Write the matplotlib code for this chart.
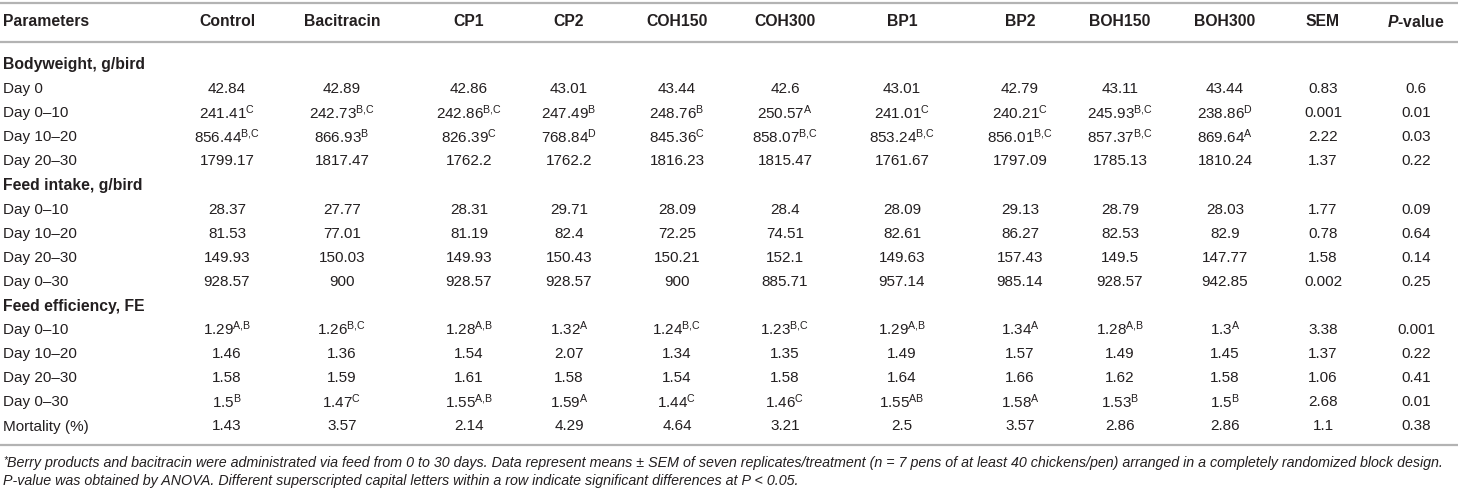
import matplotlib
matplotlib.use("Agg")
import matplotlib.pyplot as plt

plt.rcParams['font.family'] = ['Liberation Sans', 'DejaVu Sans']
plt.rcParams['mathtext.fontset'] = 'custom'
plt.rcParams['mathtext.rm'] = 'Liberation Sans'
plt.rcParams['mathtext.it'] = 'Liberation Sans:italic:bold'
plt.rcParams['mathtext.bf'] = 'Liberation Sans:bold'

# ---------------- data ----------------
header_first = "Parameters"
columns = ["Control", "Bacitracin", "CP1", "CP2", "COH150", "COH300",
           "BP1", "BP2", "BOH150", "BOH300", "SEM", r"$\it{P}$-value"]

group_bw = "Bodyweight, g/bird"
bw_labels = ["Day 0", "Day 0–10", "Day 10–20", "Day 20–30"]
bw_day0 = ["42.84", "42.89", "42.86", "43.01", "43.44", "42.6", "43.01", "42.79", "43.11", "43.44", "0.83", "0.6"]
bw_day0_sup = [""] * 12
bw_d0_10 = ["241.41", "242.73", "242.86", "247.49", "248.76", "250.57", "241.01", "240.21", "245.93", "238.86", "0.001", "0.01"]
bw_d0_10_sup = ["C", "B,C", "B,C", "B", "B", "A", "C", "C", "B,C", "D", "", ""]
bw_d10_20 = ["856.44", "866.93", "826.39", "768.84", "845.36", "858.07", "853.24", "856.01", "857.37", "869.64", "2.22", "0.03"]
bw_d10_20_sup = ["B,C", "B", "C", "D", "C", "B,C", "B,C", "B,C", "B,C", "A", "", ""]
bw_d20_30 = ["1799.17", "1817.47", "1762.2", "1762.2", "1816.23", "1815.47", "1761.67", "1797.09", "1785.13", "1810.24", "1.37", "0.22"]
bw_d20_30_sup = [""] * 12

group_fi = "Feed intake, g/bird"
fi_labels = ["Day 0–10", "Day 10–20", "Day 20–30", "Day 0–30"]
fi_d0_10 = ["28.37", "27.77", "28.31", "29.71", "28.09", "28.4", "28.09", "29.13", "28.79", "28.03", "1.77", "0.09"]
fi_d10_20 = ["81.53", "77.01", "81.19", "82.4", "72.25", "74.51", "82.61", "86.27", "82.53", "82.9", "0.78", "0.64"]
fi_d20_30 = ["149.93", "150.03", "149.93", "150.43", "150.21", "152.1", "149.63", "157.43", "149.5", "147.77", "1.58", "0.14"]
fi_d0_30 = ["928.57", "900", "928.57", "928.57", "900", "885.71", "957.14", "985.14", "928.57", "942.85", "0.002", "0.25"]

group_fe = "Feed efficiency, FE"
fe_labels = ["Day 0–10", "Day 10–20", "Day 20–30", "Day 0–30", "Mortality (%)"]
fe_d0_10 = ["1.29", "1.26", "1.28", "1.32", "1.24", "1.23", "1.29", "1.34", "1.28", "1.3", "3.38", "0.001"]
fe_d0_10_sup = ["A,B", "B,C", "A,B", "A", "B,C", "B,C", "A,B", "A", "A,B", "A", "", ""]
fe_d10_20 = ["1.46", "1.36", "1.54", "2.07", "1.34", "1.35", "1.49", "1.57", "1.49", "1.45", "1.37", "0.22"]
fe_d20_30 = ["1.58", "1.59", "1.61", "1.58", "1.54", "1.58", "1.64", "1.66", "1.62", "1.58", "1.06", "0.41"]
fe_d0_30 = ["1.5", "1.47", "1.55", "1.59", "1.44", "1.46", "1.55", "1.58", "1.53", "1.5", "2.68", "0.01"]
fe_d0_30_sup = ["B", "C", "A,B", "A", "C", "C", "AB", "A", "B", "B", "", ""]
mortality = ["1.43", "3.57", "2.14", "4.29", "4.64", "3.21", "2.5", "3.57", "2.86", "2.86", "1.1", "0.38"]

footnote1 = ("Berry products and bacitracin were administrated via feed from 0 to 30 days. Data represent means ± SEM of "
             "seven replicates/treatment (n = 7 pens of at least 40 chickens/pen) arranged in a completely randomized block design.")
footnote2 = ("P-value was obtained by ANOVA. Different superscripted capital letters within a row indicate "
             "significant differences at P < 0.05.")

none = [""] * 12
table_rows = [
    ("group", group_bw, None, None),
    ("row", bw_labels[0], bw_day0, bw_day0_sup),
    ("row", bw_labels[1], bw_d0_10, bw_d0_10_sup),
    ("row", bw_labels[2], bw_d10_20, bw_d10_20_sup),
    ("row", bw_labels[3], bw_d20_30, bw_d20_30_sup),
    ("group", group_fi, None, None),
    ("row", fi_labels[0], fi_d0_10, none),
    ("row", fi_labels[1], fi_d10_20, none),
    ("row", fi_labels[2], fi_d20_30, none),
    ("row", fi_labels[3], fi_d0_30, none),
    ("group", group_fe, None, None),
    ("row", fe_labels[0], fe_d0_10, fe_d0_10_sup),
    ("row", fe_labels[1], fe_d10_20, none),
    ("row", fe_labels[2], fe_d20_30, none),
    ("row", fe_labels[3], fe_d0_30, fe_d0_30_sup),
    ("row", fe_labels[4], mortality, none),
]

# ---------------- layout ----------------
W, H = 1458, 492
fig = plt.figure(figsize=(W / 100, H / 100), dpi=100)
ax = fig.add_axes([0, 0, 1, 1])
ax.set_xlim(0, W)
ax.set_ylim(H, 0)
ax.axis("off")

txt = "#231f20"
line_c = "#b3b3b3"
fs = 11.0
fs_head = 11.3
col_x = [227, 342, 469, 569, 677, 785, 902, 1020, 1120, 1225, 1323, 1416]
left_x = 3
header_y = 22
first_row_y = 65
row_step = 24.1

for yl in (3, 42, 445):
    ax.plot([0, W], [yl, yl], color=line_c, lw=1.6, solid_capstyle="butt")

ax.text(left_x, header_y, header_first, ha="left", va="center", fontsize=fs_head, fontweight="bold", color=txt)
for x, c in zip(col_x, columns):
    ax.text(x, header_y, c, ha="center", va="center", fontsize=fs_head, fontweight="bold", color=txt)

for i, (kind, label, vals, sups) in enumerate(table_rows):
    y = first_row_y + i * row_step
    if kind == "group":
        ax.text(left_x, y, label, ha="left", va="center", fontsize=fs_head, fontweight="bold", color=txt)
        continue
    ax.text(left_x, y, label, ha="left", va="center", fontsize=fs, color=txt)
    for x, v, s in zip(col_x, vals, sups):
        if s:
            sup = s.replace(",", "{,}")
            ax.text(x, y + 5.3, v + r"$^{\mathrm{" + sup + "}}$", ha="center", va="baseline",
                    fontsize=fs, color=txt)
        else:
            ax.text(x, y, v, ha="center", va="center", fontsize=fs, color=txt)

# footnotes
ax.text(left_x, 460, "*", ha="left", va="center", fontsize=7.5, style="italic", color=txt)
ax.text(left_x + 4, 463, footnote1, ha="left", va="center", fontsize=10.3, style="italic", color=txt)
ax.text(left_x, 481.5, footnote2, ha="left", va="center", fontsize=10.3, style="italic", color=txt)

fig.savefig("out.png", dpi=100)
